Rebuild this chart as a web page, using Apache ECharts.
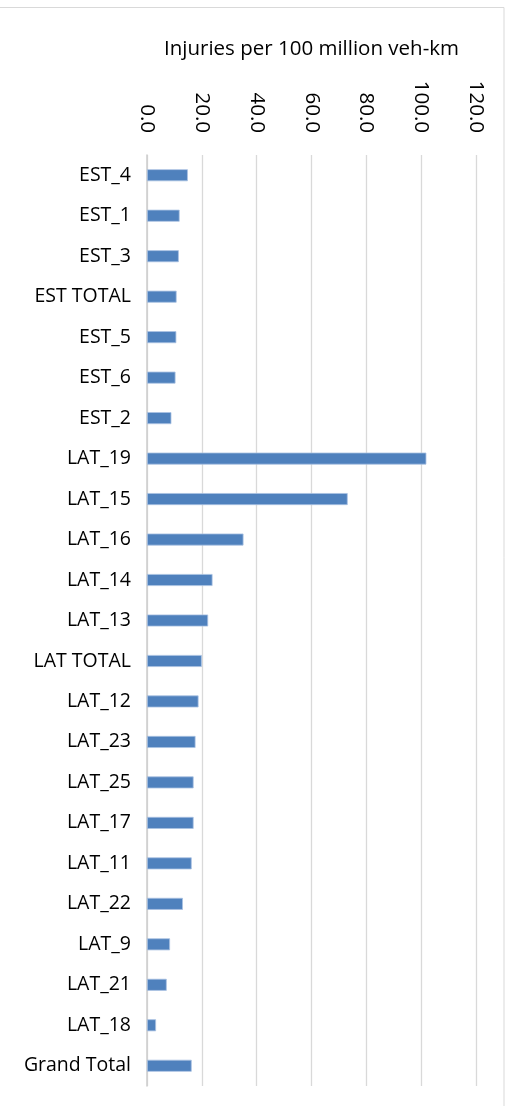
<!DOCTYPE html>
<html>
<head>
<meta charset="utf-8">
<script src="https://cdn.jsdelivr.net/npm/echarts@6/dist/echarts.min.js"></script>
<style>
html,body{margin:0;padding:0;background:#fff;}
#chart{width:510px;height:1106px;}
</style>
</head>
<body>
<div id="chart"></div>
<script>
const categories = ["EST_4","EST_1","EST_3","EST TOTAL","EST_5","EST_6","EST_2","LAT_19","LAT_15","LAT_16","LAT_14","LAT_13","LAT TOTAL","LAT_12","LAT_23","LAT_25","LAT_17","LAT_11","LAT_22","LAT_9","LAT_21","LAT_18","Grand Total"];
const injuries = [14.9,11.9,11.6,10.8,10.7,10.4,8.9,101.9,73.2,35.2,23.9,22.3,20.0,18.8,17.7,17.0,17.0,16.3,13.1,8.4,7.2,3.3,16.3];
const axisTitle = "Injuries per 100 million veh-km";

const FONT = "Open Sans";
const chart = echarts.init(document.getElementById('chart'), null, {renderer:'canvas'});
chart.setOption({
  animation:false,
  backgroundColor:'#fff',
  textStyle:{fontFamily:FONT},
  graphic:[{
    type:'rect', silent:true,
    shape:{x:-2,y:7.5,width:506,height:1110},
    style:{fill:'none',stroke:'#d9d9d9',lineWidth:1}
  }],
  grid:{left:147,right:34,top:155,bottom:20,containLabel:false},
  xAxis:{
    type:'value', position:'top', min:0, max:120, interval:20,
    name:axisTitle, nameLocation:'middle', nameGap:95,
    nameTextStyle:{fontFamily:FONT,fontSize:20.5,color:'#000'},
    axisLine:{show:false}, axisTick:{show:false},
    axisLabel:{rotate:90, margin:22, fontFamily:FONT, fontSize:20.5, color:'#000',
      formatter:v=>v.toFixed(1)},
    splitLine:{show:true,lineStyle:{color:'#d9d9d9',width:1.3}}
  },
  yAxis:{
    type:'category', data:categories, inverse:true,
    axisLine:{show:true,lineStyle:{color:'#d0d0d0',width:1.6}},
    axisTick:{show:false},
    axisLabel:{margin:16, fontFamily:FONT, fontSize:19.5, color:'#000', interval:0}
  },
  series:[{
    type:'bar', data:injuries, barWidth:12,
    itemStyle:{color:'#4F81BD', borderColor:'#a9c2e2', borderWidth:0.8}
  }]
});
</script>
</body>
</html>
